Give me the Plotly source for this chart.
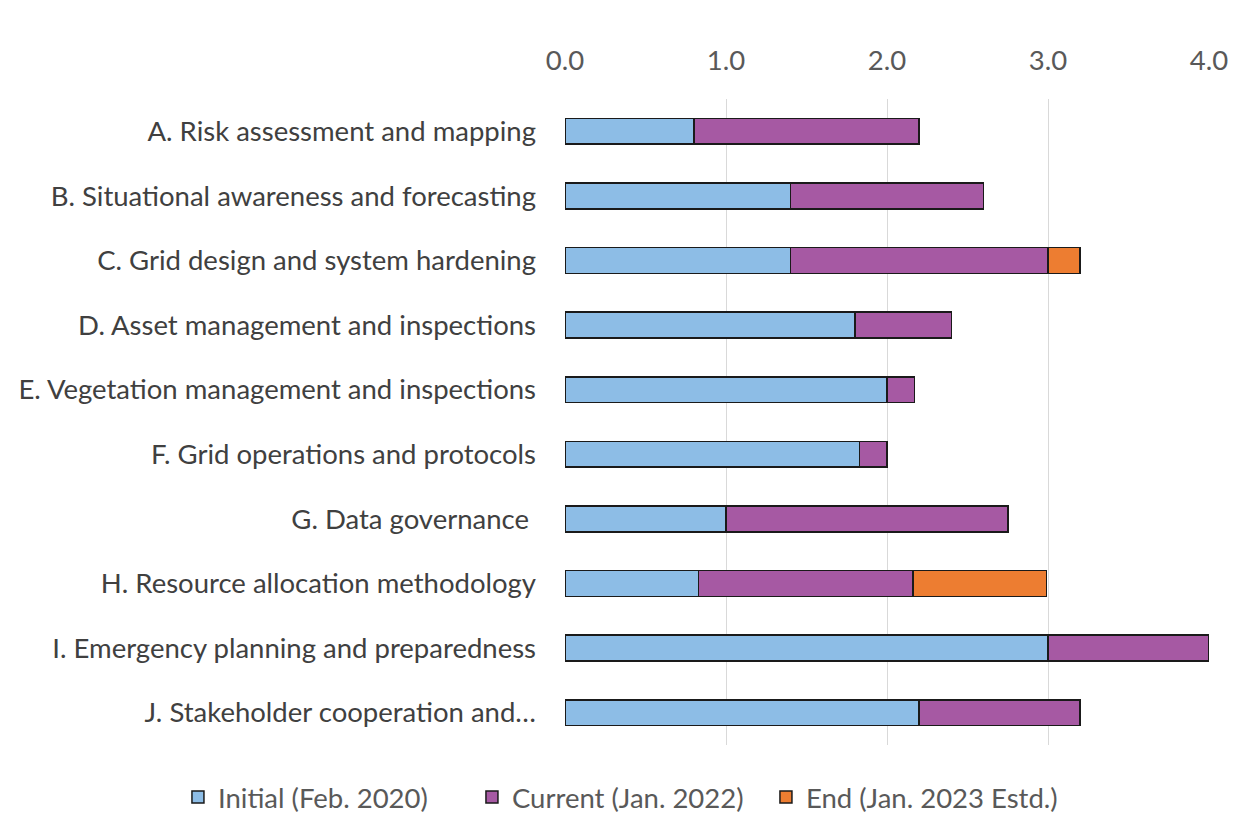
import plotly.graph_objects as go

categories = [
    "A. Risk assessment and mapping",
    "B. Situational awareness and forecasting",
    "C. Grid design and system hardening",
    "D. Asset management and inspections",
    "E. Vegetation management and inspections",
    "F. Grid operations and protocols",
    "G. Data governance ",
    "H. Resource allocation methodology",
    "I. Emergency planning and preparedness",
    "J. Stakeholder cooperation and…",
]
initial = [0.8, 1.4, 1.4, 1.8, 2.0, 1.83, 1.0, 0.83, 3.0, 2.2]
current = [1.4, 1.2, 1.6, 0.6, 0.17, 0.17, 1.75, 1.33, 1.0, 1.0]
end_est = [0, 0, 0.2, 0, 0, 0, 0, 0.83, 0, 0]

series = [
    ("Initial (Feb. 2020)", initial, "#8DBDE6"),
    ("Current (Jan. 2022)", current, "#A659A3"),
    ("End (Jan. 2023 Estd.)", end_est, "#ED7D31"),
]

FONT = "Lato"
FS = 27.5
fig = go.Figure()
for name, vals, color in series:
    fig.add_trace(go.Bar(
        y=categories, x=vals, name=name, orientation="h",
        marker=dict(color=color, line=dict(color="#1a1a1a", width=1.5)),
        width=0.4,
    ))

fig.update_layout(
    barmode="stack",
    width=1235, height=821,
    plot_bgcolor="white", paper_bgcolor="white",
    margin=dict(l=557, r=34, t=91, b=84, autoexpand=False),
    font=dict(family=FONT, size=FS, color="#404040"),
    showlegend=True,
    legend=dict(orientation="h", xref="paper", yref="paper",
                x=-0.601, xanchor="left", y=-0.0805, yanchor="middle",
                font=dict(size=FS, color="#595959"),
                entrywidth=249, entrywidthmode="pixels",
                traceorder="normal", bgcolor="rgba(0,0,0,0)"),
)
fig.update_xaxes(side="top", range=[0, 4.0], dtick=1, tickformat=".1f",
                 showgrid=True, gridcolor="#D9D9D9", gridwidth=1.2,
                 zeroline=False, showline=False,
                 tickfont=dict(size=FS, color="#595959"),
                 ticks="", ticklabelstandoff=23)
fig.update_yaxes(autorange="reversed", showgrid=False, showline=False,
                 tickfont=dict(size=FS, color="#404040"),
                 ticks="", ticklabelstandoff=28)

fig.write_html("out.html")
